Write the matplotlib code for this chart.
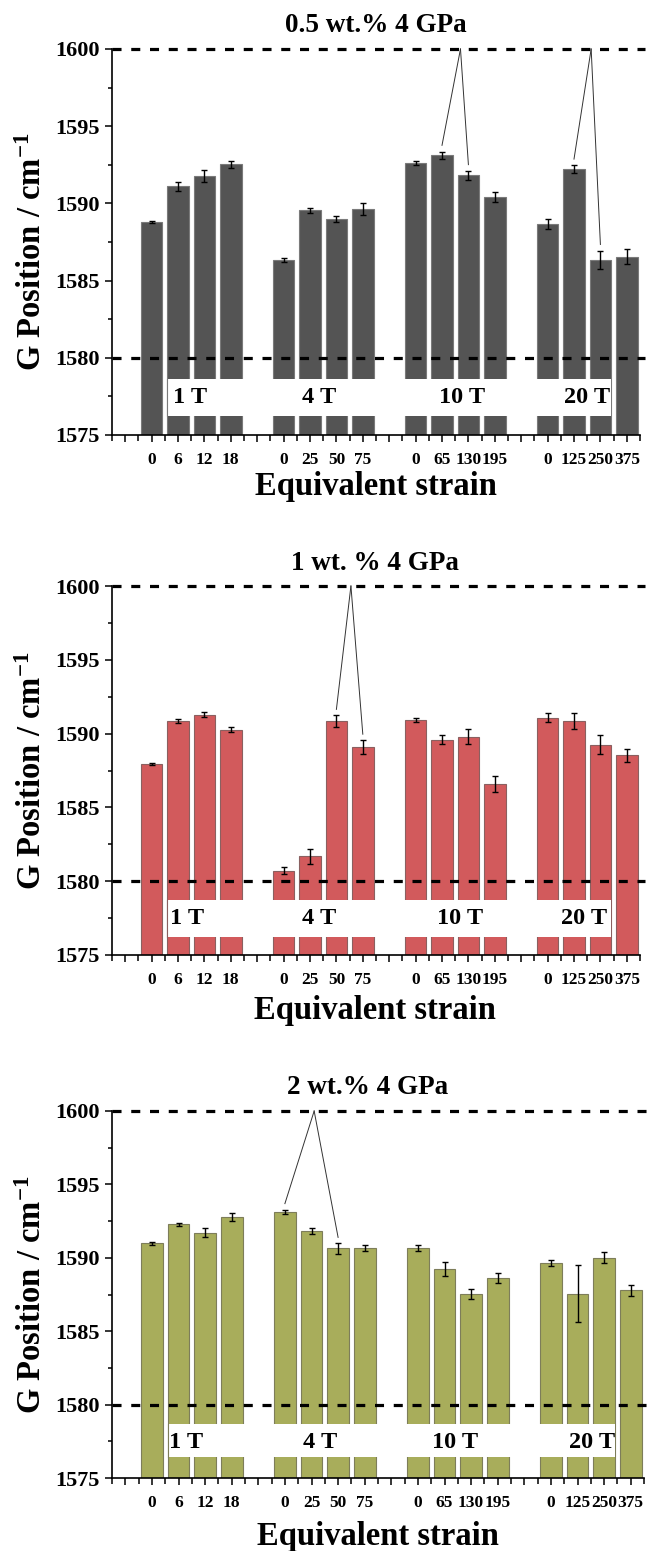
import matplotlib
matplotlib.use("Agg")
import matplotlib.pyplot as plt
from matplotlib.patches import Rectangle
import numpy as np

plt.rcParams['font.family'] = ['Liberation Serif', 'DejaVu Serif']
plt.rcParams['font.weight'] = 'bold'
plt.rcParams['mathtext.fontset'] = 'custom'
plt.rcParams['mathtext.rm'] = 'Liberation Serif:bold'
plt.rcParams['mathtext.bf'] = 'Liberation Serif:bold'
plt.rcParams['mathtext.it'] = 'Liberation Serif:bold'
plt.rcParams['mathtext.default'] = 'bf'
plt.rcParams['lines.scale_dashes'] = False

# ---------------- data ----------------
groups = ["1 T", "4 T", "10 T", "20 T"]
strain_labels = [["0", "6", "12", "18"],
                 ["0", "25", "50", "75"],
                 ["0", "65", "130", "195"],
                 ["0", "125", "250", "375"]]

titles = ["0.5 wt.% 4 GPa", "1 wt. % 4 GPa", "2 wt.% 4 GPa"]

vals_05 = [1588.79, 1591.10, 1591.79, 1592.52,
           1586.34, 1589.56, 1588.98, 1589.63,
           1592.61, 1593.11, 1591.81, 1590.41,
           1588.66, 1592.22, 1586.34, 1586.56]
err_05 = [0.08, 0.30, 0.40, 0.22,
          0.15, 0.15, 0.20, 0.38,
          0.12, 0.25, 0.30, 0.30,
          0.35, 0.25, 0.60, 0.50]

vals_1 = [1587.93, 1590.84, 1591.29, 1590.27,
          1580.71, 1581.68, 1590.84, 1589.08,
          1590.91, 1589.60, 1589.78, 1586.60,
          1591.09, 1590.84, 1589.26, 1588.54]
err_1 = [0.08, 0.15, 0.15, 0.17,
         0.25, 0.50, 0.40, 0.48,
         0.15, 0.30, 0.50, 0.53,
         0.33, 0.55, 0.66, 0.44]

vals_2 = [1591.00, 1592.27, 1591.70, 1592.77,
          1593.14, 1591.84, 1590.64, 1590.64,
          1590.68, 1589.23, 1587.52, 1588.64,
          1589.64, 1587.55, 1590.02, 1587.80]
err_2 = [0.10, 0.12, 0.30, 0.25,
         0.15, 0.20, 0.35, 0.20,
         0.20, 0.45, 0.35, 0.35,
         0.20, 1.93, 0.40, 0.38]

# annotation: apex x (on the 1600 line) and the two bar indices it points to
annots_05 = [(11.7, [9, 10]), (16.65, [13, 14])]
annots_1 = [(7.55, [6, 7])]
annots_2 = [(6.1, [4, 6])]

ref_lines = [1600, 1580]

# ---------------- layout ----------------
W, H = 654, 1551
fig = plt.figure(figsize=(W / 100, H / 100), dpi=100)

panels = [
    dict(title=titles[0], vals=vals_05, errs=err_05, annots=annots_05,
         color="#545454", edge="#7a7a7a",
         top=49, bot=435, left=112, right=640,
         band=(1576.25, 1578.65), lab_y=1577.45,
         lab_x=[1.45, 6.33, 11.77, 16.5],
         title_xy=(376, 25), ylab_xy=(33, 252), xlab_xy=(376, 486)),
    dict(title=titles[1], vals=vals_1, errs=err_1, annots=annots_1,
         color="#D25A5C", edge="#8a6060",
         top=586, bot=955, left=112, right=640,
         band=(1576.25, 1578.72), lab_y=1577.45,
         lab_x=[1.35, 6.33, 11.7, 16.4],
         title_xy=(375, 563), ylab_xy=(33, 771), xlab_xy=(375, 1010)),
    dict(title=titles[2], vals=vals_2, errs=err_2, annots=annots_2,
         color="#A8AD5B", edge="#7d7d5a",
         top=1111, bot=1478, left=112, right=644,
         band=(1576.45, 1578.7), lab_y=1577.45,
         lab_x=[1.3, 6.33, 11.4, 16.55],
         title_xy=(368, 1088), ylab_xy=(33, 1295), xlab_xy=(378, 1536)),
]

bar_w = 0.82
xpos = np.array([g * 5 + i for g in range(4) for i in range(4)], dtype=float)
tick_labels = [s for grp in strain_labels for s in grp]

for p in panels:
    ax = fig.add_axes([p['left'] / W, 1 - p['bot'] / H,
                       (p['right'] - p['left']) / W, (p['bot'] - p['top']) / H])
    vals = np.array(p['vals'])
    errs = np.array(p['errs'])
    ax.bar(xpos, vals - 1575, bottom=1575, width=bar_w, color=p['color'],
           edgecolor=p['edge'], linewidth=0.8, zorder=2)
    ax.errorbar(xpos, vals, yerr=errs, fmt='none', ecolor='black',
                elinewidth=1.0, capsize=2, capthick=1.0, zorder=3)

    # white label band across the bars
    lo, hi = p['band']
    x0 = xpos[1] - bar_w / 2
    x1 = xpos[14] + bar_w / 2
    ax.add_patch(Rectangle((x0, lo), x1 - x0, hi - lo, facecolor='white',
                           edgecolor='none', zorder=4))
    ax.plot([x0, x0], [lo, hi], color=p['edge'], lw=0.8, zorder=4.5)
    for gx, g in zip(p['lab_x'], groups):
        ax.text(gx, p['lab_y'], g, ha='center', va='center', fontsize=17.5,
                fontweight='bold', zorder=6)

    # reference dashed lines
    for yl in ref_lines:
        ax.plot([-1.5, 18.7], [yl, yl], color='black', lw=2.3,
                dashes=(6.5, 7), clip_on=False, zorder=5,
                dash_capstyle='butt')

    # annotation lines
    for apex, idxs in p['annots']:
        for k in idxs:
            ax.plot([apex, xpos[k]], [1600, vals[k] + errs[k] + 0.4],
                    color='#333333', lw=0.7, zorder=5, clip_on=False)

    ax.set_xlim(-1.5, 18.5)
    ax.set_ylim(1575, 1600)
    ax.spines['top'].set_visible(False)
    ax.spines['right'].set_visible(False)
    for s in ('left', 'bottom'):
        ax.spines[s].set_linewidth(1.2)

    major = np.arange(-1, 19)
    labels = []
    for m in major:
        if m in xpos:
            labels.append(tick_labels[list(xpos).index(m)])
        else:
            labels.append("")
    ax.set_xticks(major)
    ax.set_xticklabels(labels)
    ax.set_xticks(np.arange(-1.5, 18.51, 1.0), minor=True)
    ax.tick_params(axis='x', which='major', direction='out', length=5,
                   width=1.1, labelsize=12.5, pad=7)
    ax.tick_params(axis='x', which='minor', direction='out', length=4,
                   width=1.1)
    ax.set_yticks([1575, 1580, 1585, 1590, 1595, 1600])
    ax.set_yticks(np.arange(1577.5, 1600, 5), minor=True)
    ax.tick_params(axis='y', which='major', direction='out', length=5,
                   width=1.1, labelsize=16, pad=4)
    ax.tick_params(axis='y', which='minor', direction='out', length=3,
                   width=1.1)
    for lab in ax.get_xticklabels() + ax.get_yticklabels():
        lab.set_fontweight('bold')

    fig.text(p['title_xy'][0] / W, 1 - p['title_xy'][1] / H, p['title'],
             ha='center', va='center', fontsize=19.5, fontweight='bold')
    fig.text(p['ylab_xy'][0] / W, 1 - p['ylab_xy'][1] / H,
             "G Position / cm$^{-1}$", rotation=90, ha='center', va='center',
             fontsize=23.5, fontweight='bold')
    fig.text(p['xlab_xy'][0] / W, 1 - p['xlab_xy'][1] / H,
             "Equivalent strain", ha='center', va='center', fontsize=23.5,
             fontweight='bold')

fig.savefig("out.png", dpi=100)
